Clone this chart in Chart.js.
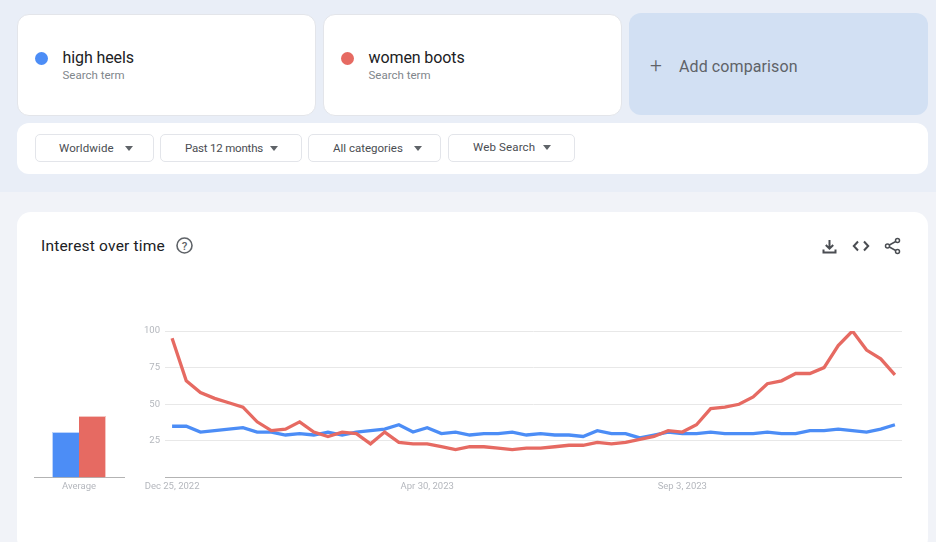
<!DOCTYPE html>
<html>
<head>
<meta charset="utf-8">
<title>Interest over time</title>
<script src="https://cdn.jsdelivr.net/npm/chart.js@4"></script>
<style>
  html, body { margin: 0; padding: 0; width: 936px; height: 542px; overflow: hidden; background: #f1f3f8; font-family: Roboto, sans-serif; }
  .top { position: absolute; left: 0; top: 0; width: 936px; height: 192px; background: #e9eef7; }
  .box { position: absolute; background: #fff; border-radius: 12px; box-sizing: border-box; }
  .term { top: 13.5px; width: 299px; height: 102px; border: 1px solid #e3e5ea; }
  .dot { position: absolute; left: 17px; top: 37px; width: 13px; height: 13px; border-radius: 50%; }
  .name { position: absolute; left: 45px; top: 33px; font-size: 16px; letter-spacing: -0.1px; color: #202124; }
  .sub { position: absolute; left: 45px; top: 53.5px; font-size: 11.5px; color: #80868b; }
  .add { position: absolute; left: 629px; top: 13px; width: 299px; height: 102px; background: #d2e0f3; border-radius: 12px; color: #5f6368; }
  .add .plus { position: absolute; left: 21px; top: 40px; font-size: 21px; font-weight: 300; line-height: 24px; }
  .add .lbl { position: absolute; left: 50px; top: 44px; font-size: 16px; letter-spacing: 0.1px; }
  .bar { left: 16.5px; top: 122.5px; width: 911.5px; height: 51px; }
  .pick { position: absolute; top: 134px; height: 28px; box-sizing: border-box; background: #fff; border: 1px solid #e3e5ea; border-radius: 5px; font-size: 11.5px; color: #4a4d52; line-height: 26px; }
  .pick span { position: absolute; top: 0; white-space: nowrap; }
  .pick i { position: absolute; top: 11px; width: 0; height: 0; border-left: 4px solid transparent; border-right: 4px solid transparent; border-top: 5px solid #5f6368; }
  .card { left: 16.5px; top: 212px; width: 911.5px; height: 340px; border-radius: 14px; }
  .title { position: absolute; left: 41px; top: 237px; font-size: 15.5px; letter-spacing: 0.2px; color: #202124; }
  svg { position: absolute; }
  canvas { position: absolute; }
</style>
</head>
<body>
<div class="top"></div>
<div class="box term" style="left:16.5px"><div class="dot" style="background:#4c8df6"></div><div class="name">high heels</div><div class="sub">Search term</div></div>
<div class="box term" style="left:322.5px"><div class="dot" style="background:#e66a62"></div><div class="name">women boots</div><div class="sub">Search term</div></div>
<div class="add"><div class="plus">+</div><div class="lbl">Add comparison</div></div>
<div class="box bar"></div>
<div class="pick" style="left:35px;width:119px"><span style="left:23px;letter-spacing:0.1px">Worldwide</span><i style="left:89px"></i></div>
<div class="pick" style="left:160px;width:142px"><span style="left:24px;letter-spacing:-0.2px">Past 12 months</span><i style="left:109px"></i></div>
<div class="pick" style="left:308px;width:133px"><span style="left:24px">All categories</span><i style="left:105px"></i></div>
<div class="pick" style="left:448px;width:127px"><span style="left:24px;letter-spacing:0.15px;top:-1px">Web Search</span><i style="left:94px;top:10px"></i></div>
<div class="box card"></div>
<div class="title">Interest over time</div>
<svg style="left:175px;top:236px" width="19" height="19" viewBox="0 0 19 19"><circle cx="9.5" cy="9.5" r="7.5" fill="none" stroke="#5f6368" stroke-width="1.6"/><text x="9.5" y="13.5" text-anchor="middle" font-size="11.5" font-family="Roboto" font-weight="500" fill="#5f6368">?</text></svg>
<svg style="left:821px;top:238px" width="17" height="17" viewBox="0 0 17 17"><path d="M8.5 2v8M4.8 7l3.7 3.7L12.2 7M2.5 11.5v3h12v-3" fill="none" stroke="#4a4d52" stroke-width="2"/></svg>
<svg style="left:852px;top:238px" width="18" height="16" viewBox="0 0 18 16"><path d="M6 3.5L1.8 8 6 12.5M12 3.5L16.2 8 12 12.5" fill="none" stroke="#4a4d52" stroke-width="2"/></svg>
<svg style="left:884px;top:237px" width="17" height="18" viewBox="0 0 17 18"><path d="M13.5 3.5L3.5 9l10 5.5" fill="none" stroke="#4a4d52" stroke-width="1.5"/><circle cx="13.5" cy="3.5" r="2" fill="#fff" stroke="#4a4d52" stroke-width="1.5"/><circle cx="3.5" cy="9" r="2" fill="#fff" stroke="#4a4d52" stroke-width="1.5"/><circle cx="13.5" cy="14.5" r="2" fill="#fff" stroke="#4a4d52" stroke-width="1.5"/></svg>

<canvas id="avgChart" style="left:20px;top:320px" width="120" height="180"></canvas>
<canvas id="trendChart" style="left:130px;top:320px" width="772" height="180"></canvas>

<script>
const weeks = [
  'Dec 25, 2022', 'Jan 1, 2023', 'Jan 8, 2023', 'Jan 15, 2023', 'Jan 22, 2023', 'Jan 29, 2023',
  'Feb 5, 2023', 'Feb 12, 2023', 'Feb 19, 2023', 'Feb 26, 2023', 'Mar 5, 2023', 'Mar 12, 2023',
  'Mar 19, 2023', 'Mar 26, 2023', 'Apr 2, 2023', 'Apr 9, 2023', 'Apr 16, 2023', 'Apr 23, 2023',
  'Apr 30, 2023', 'May 7, 2023', 'May 14, 2023', 'May 21, 2023', 'May 28, 2023', 'Jun 4, 2023',
  'Jun 11, 2023', 'Jun 18, 2023', 'Jun 25, 2023', 'Jul 2, 2023', 'Jul 9, 2023', 'Jul 16, 2023',
  'Jul 23, 2023', 'Jul 30, 2023', 'Aug 6, 2023', 'Aug 13, 2023', 'Aug 20, 2023', 'Aug 27, 2023',
  'Sep 3, 2023', 'Sep 10, 2023', 'Sep 17, 2023', 'Sep 24, 2023', 'Oct 1, 2023', 'Oct 8, 2023',
  'Oct 15, 2023', 'Oct 22, 2023', 'Oct 29, 2023', 'Nov 5, 2023', 'Nov 12, 2023', 'Nov 19, 2023',
  'Nov 26, 2023', 'Dec 3, 2023', 'Dec 10, 2023', 'Dec 17, 2023'
];
const highHeels = [
  35, 35, 31, 32, 33, 34, 31, 31, 29, 30, 29, 31, 29, 31, 32, 33, 36, 31,
  34, 30, 31, 29, 30, 30, 31, 29, 30, 29, 29, 28, 32, 30, 30, 27, 29, 31,
  30, 30, 31, 30, 30, 30, 31, 30, 30, 32, 32, 33, 32, 31, 33, 36
];
const womenBoots = [
  95, 66, 58, 54, 51, 48, 38, 32, 33, 38, 31, 28, 31, 30, 23, 31, 24, 23,
  23, 21, 19, 21, 21, 20, 19, 20, 20, 21, 22, 22, 24, 23, 24, 26, 28, 32,
  31, 36, 47, 48, 50, 55, 64, 66, 71, 71, 75, 90, 100, 87, 81, 70
];
const averages = { 'high heels': [31], 'women boots': [42] };
const shownDates = ['Dec 25, 2022', 'Apr 30, 2023', 'Sep 3, 2023'];
const yTicks = [25, 50, 75, 100];

const BLUE = '#4c8df6';
const RED = '#e66a62';
const TICK = '#b4b7bd';

new Chart(document.getElementById('trendChart'), {
  type: 'line',
  data: {
    labels: weeks,
    datasets: [
      { label: 'high heels', data: highHeels, borderColor: BLUE, borderWidth: 3.3, pointRadius: 0, tension: 0, order: 2 },
      { label: 'women boots', data: womenBoots, borderColor: RED, borderWidth: 3.3, pointRadius: 0, tension: 0, order: 1 }
    ]
  },
  options: {
    responsive: false,
    animation: false,
    layout: { padding: { top: 11, right: 0, bottom: 0, left: 0 } },
    plugins: { legend: { display: false }, tooltip: { enabled: false } },
    scales: {
      x: {
        offset: true,
        afterFit: function(axis) { axis.height = 22.5; },
        grid: { display: false, drawTicks: false },
        border: { color: '#b3b3b3', width: 1 },
        ticks: {
          autoSkip: false, maxRotation: 0, padding: 3, color: TICK,
          font: { family: 'Roboto', size: 9.5 },
          callback: function(v) {
            const d = weeks[v];
            return shownDates.includes(d) ? d : null;
          }
        }
      },
      y: {
        min: 0, max: 100,
        afterFit: function(axis) { axis.width = 35; },
        afterBuildTicks: function(axis) { axis.ticks = yTicks.map(function(v) { return { value: v }; }); },
        grid: { color: '#e8e8e8', drawTicks: false },
        border: { display: false },
        ticks: { padding: 5, color: TICK, font: { family: 'Roboto', size: 9.5 } }
      }
    }
  }
});

new Chart(document.getElementById('avgChart'), {
  type: 'bar',
  data: {
    labels: ['Average'],
    datasets: [
      { label: 'high heels', data: averages['high heels'], backgroundColor: BLUE, borderColor: '#bcd4fb', borderWidth: { top: 1, left: 1, right: 0, bottom: 0 }, borderSkipped: false },
      { label: 'women boots', data: averages['women boots'], backgroundColor: RED, borderColor: '#f4c5c1', borderWidth: { top: 1, right: 1, left: 0, bottom: 0 }, borderSkipped: false }
    ]
  },
  options: {
    responsive: false,
    animation: false,
    layout: { padding: { top: 11, right: 16, bottom: 0, left: 14 } },
    plugins: { legend: { display: false }, tooltip: { enabled: false } },
    datasets: { bar: { categoryPercentage: 0.6, barPercentage: 1 } },
    scales: {
      x: {
        afterFit: function(axis) { axis.height = 22.5; },
        grid: { display: false, drawTicks: false },
        border: { color: '#b3b3b3', width: 1 },
        ticks: { padding: 3, color: TICK, font: { family: 'Roboto', size: 9.5 } }
      },
      y: { display: false, min: 0, max: 100 }
    }
  }
});
</script>
</body>
</html>
